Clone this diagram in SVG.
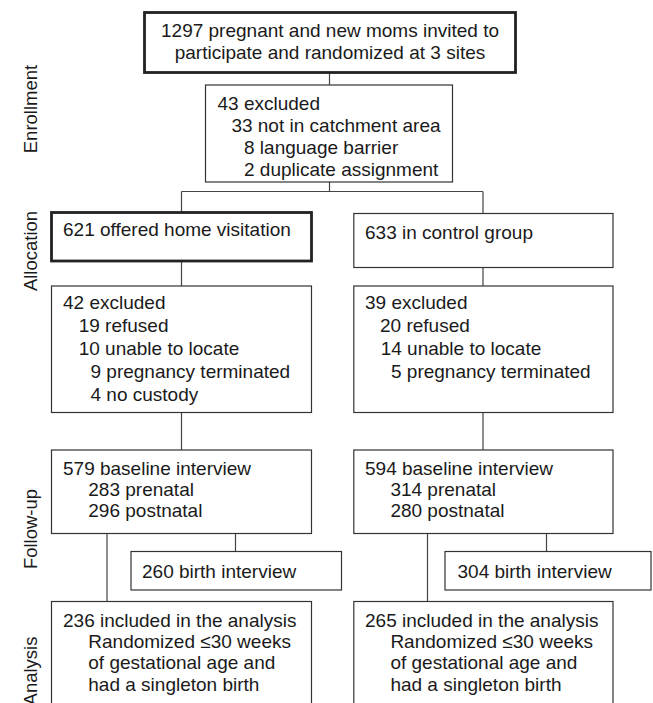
<svg xmlns="http://www.w3.org/2000/svg" width="653" height="703" viewBox="0 0 653 703">
<style>
text{font-family:"Liberation Sans",Arial,sans-serif;font-size:19px;fill:#1a1a1a}
.lbl{font-size:18.5px;text-anchor:middle}
.box{fill:#fff;stroke:#333;stroke-width:1.2}
.thick{fill:#fff;stroke:#222;stroke-width:2.8}
.conn{fill:none;stroke:#444;stroke-width:1.2}
</style>
<rect width="653" height="703" fill="#fff"/>
<g id="labels">
<text class="lbl" transform="translate(37,109) rotate(-90)">Enrollment</text>
<text class="lbl" transform="translate(37,251) rotate(-90)">Allocation</text>
<text class="lbl" transform="translate(37,529) rotate(-90)">Follow-up</text>
<text class="lbl" transform="translate(37,671) rotate(-90)">Analysis</text>
</g>
<g id="connectors">
<path class="conn" d="M329.5 73V85M329.5 182V191.5M181.5 191.5H483M181.5 191.5V212M483 191.5V213.5M181.5 261V286M483 267.5V286M181.5 412.5V450M483 412.5V450M107 533.5V601.5M235.5 533.5V551.5M427.5 533.5V601.5M546.5 533.5V551.5"/>
</g>
<g id="n_invited">
<rect class="thick" x="144.5" y="12.5" width="371" height="60"/>
<text x="330" y="37" text-anchor="middle">1297 pregnant and new moms invited to</text>
<text x="330" y="58.6" text-anchor="middle">participate and randomized at 3 sites</text>
</g>
<g id="n_excluded">
<rect class="box" x="205.5" y="85" width="247" height="97"/>
<text x="217.5" y="109.5">43 excluded</text>
<text x="231.4" y="131.5">33 not in catchment area</text>
<text x="244" y="153.5">8 language barrier</text>
<text x="244" y="175.5">2 duplicate assignment</text>
</g>
<g id="n_home">
<rect class="thick" x="51.5" y="212.5" width="260" height="48.5"/>
<text x="63" y="236">621 offered home visitation</text>
</g>
<g id="n_control">
<rect class="box" x="353.8" y="213.5" width="259.2" height="54"/>
<text x="365" y="238.5">633 in control group</text>
</g>
<g id="n_excl_home">
<rect class="box" x="51.5" y="286" width="260" height="126.5"/>
<text x="63" y="308.5">42 excluded</text>
<text x="78.7" y="331.5">19 refused</text>
<text x="78.7" y="354.5">10 unable to locate</text>
<text x="90.5" y="377.5">9 pregnancy terminated</text>
<text x="90.5" y="401">4 no custody</text>
</g>
<g id="n_excl_control">
<rect class="box" x="353.8" y="286" width="259.2" height="126.5"/>
<text x="365" y="308.5">39 excluded</text>
<text x="380" y="331.5">20 refused</text>
<text x="380.7" y="354.5">14 unable to locate</text>
<text x="391" y="377.5">5 pregnancy terminated</text>
</g>
<g id="n_base_home">
<rect class="box" x="51.5" y="450" width="260" height="83.5"/>
<text x="63" y="474.5">579 baseline interview</text>
<text x="88.3" y="495.5">283 prenatal</text>
<text x="88.3" y="516.5">296 postnatal</text>
</g>
<g id="n_base_control">
<rect class="box" x="353.8" y="450" width="259.2" height="83.5"/>
<text x="365" y="474.5">594 baseline interview</text>
<text x="390.4" y="495.5">314 prenatal</text>
<text x="390.4" y="516.5">280 postnatal</text>
</g>
<g id="n_birth_home">
<rect class="box" x="131" y="551.5" width="210.5" height="38.5"/>
<text x="142" y="577.5">260 birth interview</text>
</g>
<g id="n_birth_control">
<rect class="box" x="445" y="551.5" width="206" height="38.5"/>
<text x="457.5" y="577.5">304 birth interview</text>
</g>
<g id="n_analysis_home">
<rect class="box" x="51.5" y="601.5" width="260" height="120"/>
<text x="63" y="626.5">236 included in the analysis</text>
<text x="88.3" y="647.5">Randomized ≤30 weeks</text>
<text x="88.3" y="669">of gestational age and</text>
<text x="88.3" y="690.5">had a singleton birth</text>
</g>
<g id="n_analysis_control">
<rect class="box" x="353.8" y="601.5" width="259.2" height="120"/>
<text x="365" y="626.5">265 included in the analysis</text>
<text x="390.4" y="647.5">Randomized ≤30 weeks</text>
<text x="390.4" y="669">of gestational age and</text>
<text x="390.4" y="690.5">had a singleton birth</text>
</g>
</svg>
